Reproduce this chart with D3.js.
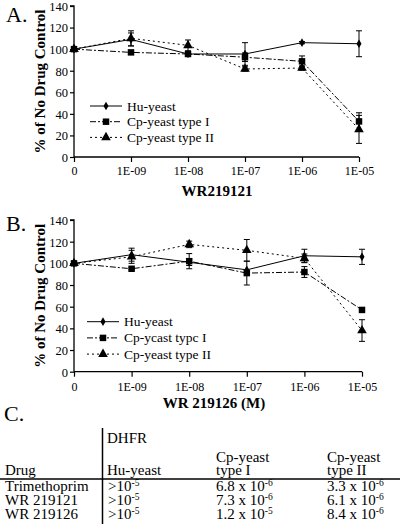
<!DOCTYPE html>
<html><head><meta charset="utf-8">
<script src="https://cdn.jsdelivr.net/npm/d3@7"></script>
<style>body{margin:0;background:#fff}svg{display:block}text{font-family:"Liberation Serif","Times New Roman",serif;fill:#000}</style>
</head><body>
<svg id="c" width="405" height="529"></svg>
<script>
const xLabels = ["0","1E-09","1E-08","1E-07","1E-06","1E-05"];
const yTicks = [0,20,40,60,80,100,120,140];
const seriesNames = ["Hu-yeast","Cp-yeast type I","Cp-yeast type II"];
const seriesNamesB = ["Hu-yeast","Cp-ycast typc I","Cp-yeast type II"];
// Panel A (WR219121)
const huA = [100,109,95.5,95.5,106,105];
const huAErr = [0,6,0,10.5,1,12];
const cp1A = [100,97,95.5,92.5,88.7,33];
const cp1AErr = [0,1,1,4,5,8];
const cp2A = [100,110,103.5,81.6,82.5,25.6];
const cp2AErr = [0,7,5,2,2,13];
// Panel B (WR 219126)
const huB = [100,108,101,94,107,106];
const huBErr = [0,6,3,0,6,7];
const cp1B = [100,95,102,91,92,57];
const cp1BErr = [0,1,7,11,5,2];
const cp2B = [100,106,117.5,112,104.6,38];
const cp2BErr = [0,6,3,10,4,10];
// Table C
const tableCols = ["Drug","Hu-yeast","Cp-yeast type I","Cp-yeast type II"];
const tableRows = [
  ["Trimethoprim", [">10","-5"], ["6.8 x 10","-6"], ["3.3 x 10","-6"]],
  ["WR 219121", [">10","-5"], ["7.3 x 10","-6"], ["6.1 x 10","-6"]],
  ["WR 219126", [">10","-5"], ["1.2 x 10","-5"], ["8.4 x 10","-6"]]
];

const svg = d3.select("#c");
const dashes = [null, "6,2,2,2", "2,3"];
const markers = [d3.symbolDiamond, d3.symbolSquare, d3.symbolTriangle];
const msize = [22, 42, 40];

function panel(o){
  const g = svg.append("g");
  const x = d3.scalePoint().domain(xLabels).range([o.x0, o.x1]);
  const y = d3.scaleLinear().domain([0,140]).range([o.y0, o.y1]);
  const ya = g.append("g").attr("transform",`translate(${o.x0},0)`)
    .call(d3.axisLeft(y).tickValues(yTicks).tickSize(4).tickPadding(2).tickFormat(d3.format("d")));
  ya.selectAll("text").style("font-size","12.5px").attr("dy","0.35em");
  const xa = g.append("g").attr("transform",`translate(0,${o.y0})`)
    .call(d3.axisBottom(x).tickSize(5).tickPadding(0));
  xa.selectAll("text").style("font-size","12px").attr("dy",null).attr("y",o.tickY);
  [ya,xa].forEach(a=>{a.attr("font-family",null);a.select(".domain").attr("stroke","#000").attr("stroke-width",1.3);a.selectAll(".tick line").attr("stroke-width",1.2)});
  xa.select(".domain").attr("d",`M${o.x0},0H${o.x1}`);
  ya.select(".domain").attr("d",`M-4,${o.y1}H0V${o.y0}`);
  o.data.forEach((vals,i)=>{
    const line = d3.line().x((d,j)=>x(xLabels[j])).y(d=>y(d));
    g.append("path").attr("d",line(vals)).attr("fill","none").attr("stroke","#000")
      .attr("stroke-width",1).attr("stroke-dasharray",dashes[i]);
    vals.forEach((v,j)=>{
      const e = o.err[i][j];
      if(e>0){
        const cx = x(xLabels[j]);
        g.append("path").attr("d",`M${cx},${y(v-e)}V${y(v+e)}M${cx-3},${y(v-e)}h6M${cx-3},${y(v+e)}h6`)
          .attr("stroke","#000").attr("stroke-width",1).attr("fill","none");
      }
    });
    vals.forEach((v,j)=>{
      g.append("path").attr("d",d3.symbol().type(markers[i]).size(msize[i])())
        .attr("transform",`translate(${x(xLabels[j])},${y(v)})`).attr("fill","#000");
    });
  });
  // legend
  o.names.forEach((n,i)=>{
    const ly = o.leg.y + i*o.leg.dy;
    g.append("line").attr("x1",o.leg.x).attr("x2",o.leg.x+32).attr("y1",ly).attr("y2",ly)
      .attr("stroke","#000").attr("stroke-width",1).attr("stroke-dasharray",dashes[i]);
    g.append("path").attr("d",d3.symbol().type(markers[i]).size(msize[i])())
      .attr("transform",`translate(${o.leg.x+16},${ly})`).attr("fill","#000");
    g.append("text").attr("x",o.leg.x+37).attr("y",ly+4.5).style("font-size","13.5px").text(n);
  });
  // y title
  g.append("text").attr("transform",`translate(${o.ytx},${(o.y0+o.y1)/2}) rotate(-90)`)
    .attr("text-anchor","middle").style("font-size","15px").style("font-weight","bold").text("% of No Drug Control");
  g.append("text").attr("x",o.xtx).attr("y",o.xty).attr("text-anchor","middle")
    .style("font-size","15px").style("font-weight","bold").text(o.xtitle);
  g.append("text").attr("x",6).attr("y",o.ly).style("font-size","22px").text(o.letter);
}

panel({x0:74,x1:359,y0:157,y1:6,tickY:18,data:[huA,cp1A,cp2A],err:[huAErr,cp1AErr,cp2AErr],
  names:seriesNames,leg:{x:90,y:106,dy:15.7},ytx:45,xtx:217,xty:196,xtitle:"WR219121",letter:"A.",ly:22});
panel({x0:74,x1:362,y0:371.7,y1:220,tickY:19,data:[huB,cp1B,cp2B],err:[huBErr,cp1BErr,cp2BErr],
  names:seriesNamesB,leg:{x:87,y:321.7,dy:16.2},ytx:45,xtx:214,xty:408,xtitle:"WR 219126 (M)",letter:"B.",ly:231});

// Table C
const t = svg.append("g");
t.append("text").attr("x",4).attr("y",421).style("font-size",
"22px").text("C.");
const colX = [5,107,216,327];
t.append("line").attr("x1",102.5).attr("x2",102.5).attr("y1",428).attr("y2",524).attr("stroke","#000").attr("stroke-width",1.5);
t.append("line").attr("x1",0).attr("x2",400).attr("y1",479).attr("y2",479).attr("stroke","#000").attr("stroke-width",1.3);
const fs = "15px";
t.append("text").attr("x",colX[1]).attr("y",443).style("font-size",fs).text("DHFR");
t.append("text").attr("x",colX[0]).attr("y",475).style("font-size",fs).text(tableCols[0]);
t.append("text").attr("x",colX[1]).attr("y",475).style("font-size",fs).text(tableCols[1]);
[2,3].forEach(c=>{
  const parts = tableCols[c].split(" type ");
  t.append("text").attr("x",colX[c]).attr("y",462).style("font-size",fs).text(parts[0]);
  t.append("text").attr("x",colX[c]).attr("y",475).style("font-size",fs).text("type "+parts[1]);
});
const rowY = [491,505,519];
tableRows.forEach((r,i)=>{
  t.append("text").attr("x",colX[0]).attr("y",rowY[i]).style("font-size",fs).text(r[0]);
  [1,2,3].forEach(c=>{
    const tx = t.append("text").attr("x",colX[c]+(c===1?1:0)).attr("y",rowY[i]).style("font-size",fs);
    tx.append("tspan").text(r[c][0]);
    tx.append("tspan").attr("dy",-5).style("font-size","9.5px").text(r[c][1]);
  });
});
</script>
</body></html>
